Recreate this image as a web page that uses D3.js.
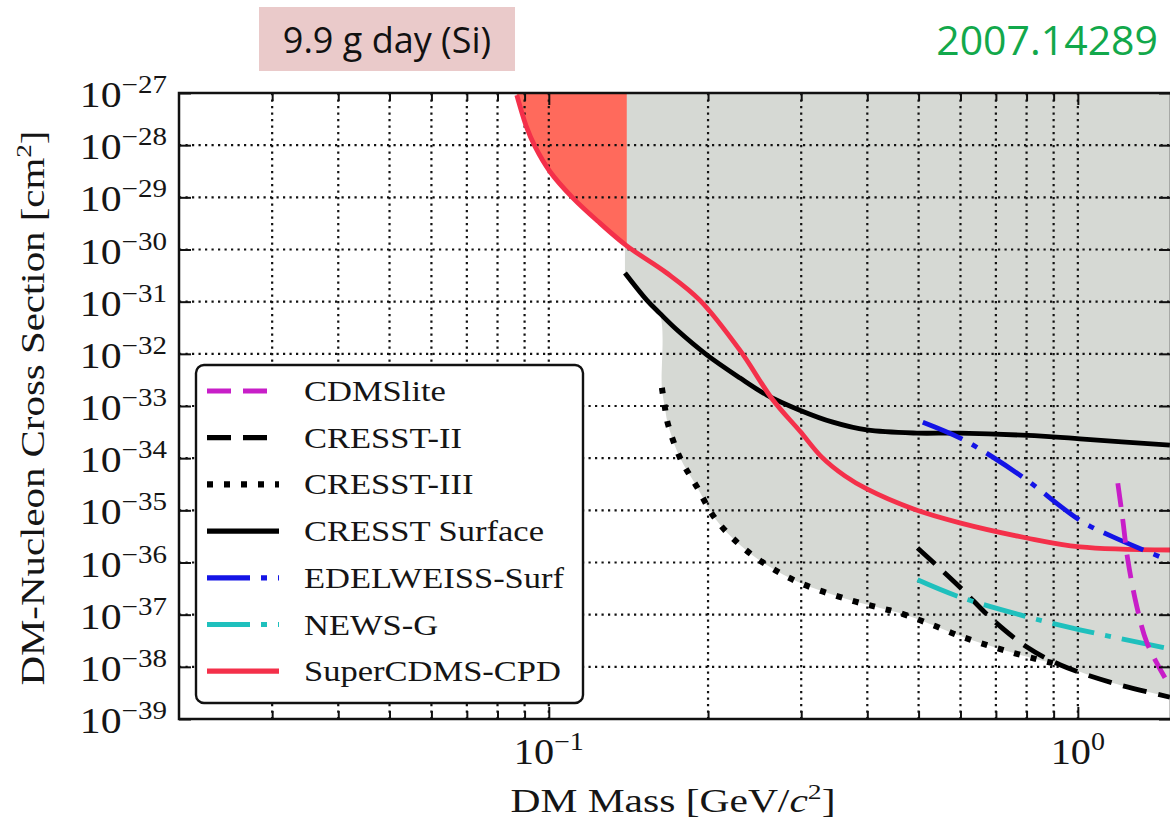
<!DOCTYPE html>
<html lang="en">
<head>
<meta charset="UTF-8">
<title>DM-Nucleon limits</title>
<script src="https://d3js.org/d3.v7.min.js"></script>
<style>
body { margin: 0; background: #fff; }
svg text { font-family: "Liberation Serif", "Times New Roman", serif; fill: #151515; }
.hdr { font-family: "Open Sans", "Noto Sans", sans-serif; }
</style>
</head>
<body>
<svg id="chart" width="1170" height="822"></svg>
<script>
// values: [DM mass in GeV, log10 of cross section in cm^2]
var cdmslite = [[1.19, -34.48], [1.216, -35.18], [1.243, -35.95], [1.293, -36.85], [1.351, -37.54], [1.461, -38.21]];
var cresst2 = [[0.4977, -35.72], [0.598, -36.47], [0.6907, -37.10], [0.801, -37.62], [0.925, -37.96], [1.165, -38.31], [1.493, -38.58]];
var cresst3 = [[0.1636, -32.65], [0.1657, -33.02], [0.1678, -33.33], [0.1768, -33.98], [0.1905, -34.55], [0.206, -35.15],
               [0.2296, -35.66], [0.2583, -36.05], [0.2982, -36.39], [0.3707, -36.72], [0.4228, -36.87], [0.4608, -36.97],
               [0.5319, -37.20], [0.6062, -37.43], [0.7538, -37.73], [0.8968, -37.93]];
var cresstSurf = [[0.1393, -30.45], [0.1532, -30.97], [0.162, -31.22], [0.1746, -31.54], [0.1989, -32.02], [0.2296, -32.46],
                  [0.2583, -32.79], [0.2982, -33.08], [0.3443, -33.31], [0.3991, -33.46], [0.4963, -33.52], [0.598, -33.52],
                  [0.8968, -33.59], [1.009, -33.63], [1.493, -33.75]];
var edelweiss = [[0.5093, -33.31], [0.598, -33.61], [0.6907, -33.98], [0.801, -34.42], [1.009, -35.19], [1.165, -35.51], [1.43, -35.89]];
var newsg = [[0.4977, -36.33], [0.598, -36.66], [0.801, -37.04], [1.009, -37.29], [1.47, -37.64]];
var supercdms = [[0.087, -27.04], [0.0909, -27.67], [0.0941, -28.02], [0.1004, -28.5], [0.111, -29.01], [0.1248, -29.49],
                 [0.1404, -29.93], [0.1671, -30.45], [0.1929, -30.97], [0.2297, -31.93], [0.2651, -32.88], [0.2982, -33.48],
                 [0.3281, -33.98], [0.3627, -34.34], [0.3991, -34.59], [0.4876, -34.97], [0.5983, -35.24],
                 [0.801, -35.53], [1.009, -35.70], [1.493, -35.76]];

var cpdCut = 0.1404;          // right edge of the red region
var xMinor = [0.03, 0.04, 0.05, 0.06, 0.07, 0.08, 0.09, 0.2, 0.3, 0.4, 0.5, 0.6, 0.7, 0.8, 0.9];
var xMajor = [0.1, 1];
var xMajorExp = ["\u22121", "0"];
var yExp = [-27, -28, -29, -30, -31, -32, -33, -34, -35, -36, -37, -38, -39];

var series = [
  {name: "CDMSlite", data: cdmslite, color: "#c81ec8", dash: "24,12", w: 4.8},
  {name: "CRESST-II", data: cresst2, color: "#000", dash: "24,12", w: 4.8},
  {name: "CRESST-III", data: cresst3, color: "#000", dash: "6,11", w: 6},
  {name: "CRESST Surface", data: cresstSurf, color: "#000", dash: null, w: 4.8},
  {name: "EDELWEISS-Surf", data: edelweiss, color: "#1414e6", dash: "43,11,6,11", w: 4.8},
  {name: "NEWS-G", data: newsg, color: "#1fc0bd", dash: "43,11,6,11", w: 4.8},
  {name: "SuperCDMS-CPD", data: supercdms, color: "#f4304a", dash: null, w: 4.8}
];

var svg = d3.select("#chart");
var pLeft = 179, pRight = 1171, pTop = 93, pBottom = 719;

var x = d3.scaleLog().domain([0.02, 1.5]).range([pLeft, pRight]);
var y = d3.scaleLog().domain([1e-39, 1e-27]).range([pBottom, pTop]);

function px(d) { return x(d[0]); }
function py(d) { return y(Math.pow(10, d[1])); }
var smooth = d3.curveCatmullRom.alpha(0.5);
var line = d3.line().x(px).y(py).curve(smooth);
var area = d3.area().x(px).y0(pTop - 5).y1(py).curve(smooth);

svg.append("defs").append("clipPath").attr("id", "plot")
  .append("rect").attr("x", pLeft).attr("y", pTop).attr("width", pRight - pLeft).attr("height", pBottom - pTop);

var plot = svg.append("g").attr("clip-path", "url(#plot)");

// gray region: above the lowest of the other limits
var grayPts = cresstSurf.filter(function (d) { return d[0] <= 0.162; })
  .concat(cresst3)
  .concat(cresst2.filter(function (d) { return d[0] > 0.9; }));
plot.append("path").attr("d", area(grayPts)).attr("fill", "#d6d9d4");

// red region: new CPD reach below 0.14 GeV
var redPts = supercdms.filter(function (d) { return d[0] <= cpdCut; });
plot.append("path").attr("d", area(redPts)).attr("fill", "#ff6a5c");

// grid
var grid = plot.append("g").attr("stroke", "#111").attr("stroke-width", 2.2).attr("stroke-dasharray", "2.2,4.3");
grid.selectAll(".gx").data(xMinor.concat(xMajor)).join("line")
  .attr("x1", function (d) { return x(d); }).attr("x2", function (d) { return x(d); })
  .attr("y1", pTop).attr("y2", pBottom);
grid.selectAll(".gy").data(yExp.slice(1, -1)).join("line")
  .attr("x1", pLeft).attr("x2", pRight)
  .attr("y1", function (d) { return y(Math.pow(10, d)); }).attr("y2", function (d) { return y(Math.pow(10, d)); });

// limit curves
var drawOrder = [2, 1, 3, 6, 4, 5, 0];
drawOrder.forEach(function (i) {
  var s = series[i];
  plot.append("path").attr("d", line(s.data))
    .attr("fill", "none").attr("stroke", s.color).attr("stroke-width", s.w)
    .attr("stroke-dasharray", s.dash);
});

// axes with inward ticks
function tickAxis(axis, vals, size, tr) {
  svg.append("g").attr("transform", tr)
    .call(axis.tickValues(vals).tickSize(size).tickFormat(""))
    .call(function (g) { g.select(".domain").remove(); g.selectAll("line").attr("stroke", "#111").attr("stroke-width", 2); });
}
var yTickVals = yExp.map(function (e) { return Math.pow(10, e); });
tickAxis(d3.axisBottom(x), xMinor, -8, "translate(0," + pBottom + ")");
tickAxis(d3.axisBottom(x), xMajor, -12, "translate(0," + pBottom + ")");
tickAxis(d3.axisTop(x), xMinor, -8, "translate(0," + pTop + ")");
tickAxis(d3.axisTop(x), xMajor, -12, "translate(0," + pTop + ")");
tickAxis(d3.axisLeft(y), yTickVals, -12, "translate(" + pLeft + ",0)");
tickAxis(d3.axisRight(y), yTickVals, -12, "translate(" + pRight + ",0)");

svg.append("rect").attr("x", pLeft).attr("y", pTop).attr("width", pRight - pLeft).attr("height", pBottom - pTop)
  .attr("fill", "none").attr("stroke", "#111").attr("stroke-width", 2.5);

// Computer Modern runs wider than Times, stretch labels a bit
function widen(k) {
  return function () {
    var w = this.getComputedTextLength();
    d3.select(this).attr("textLength", w * k).attr("lengthAdjust", "spacingAndGlyphs");
  };
}

// tick labels
var yl = svg.append("g").selectAll("text").data(yExp).join("text")
  .attr("x", 167).attr("y", function (d) { return y(Math.pow(10, d)) + 14; })
  .attr("text-anchor", "end").attr("font-size", 36);
yl.append("tspan").text("10");
yl.append("tspan").attr("font-size", 25).attr("dy", -14).text(function (d) { return "\u2212" + (-d); });
yl.each(widen(1.16));

var xl = svg.append("g").selectAll("text").data(xMajor).join("text")
  .attr("x", function (d) { return x(d); }).attr("y", 764)
  .attr("text-anchor", "middle").attr("font-size", 36);
xl.append("tspan").text("10");
xl.append("tspan").attr("font-size", 25).attr("dy", -14).text(function (d, i) { return xMajorExp[i]; });
xl.each(widen(1.12));

// axis titles
var xt = svg.append("text").attr("x", 673).attr("y", 812).attr("text-anchor", "middle").attr("font-size", 33)
  .attr("textLength", 325).attr("lengthAdjust", "spacingAndGlyphs");
xt.append("tspan").text("DM Mass [GeV/");
xt.append("tspan").attr("font-style", "italic").text("c");
xt.append("tspan").attr("font-size", 22).attr("dy", -13).text("2");
xt.append("tspan").attr("dy", 13).text("]");

var yt = svg.append("text").attr("transform", "translate(44,408) rotate(-90)").attr("text-anchor", "middle")
  .attr("font-size", 33).attr("textLength", 555).attr("lengthAdjust", "spacingAndGlyphs");
yt.append("tspan").text("DM-Nucleon Cross Section [cm");
yt.append("tspan").attr("font-size", 22).attr("dy", -13).text("2");
yt.append("tspan").attr("dy", 13).text("]");

// legend
var lg = svg.append("g");
lg.append("rect").attr("x", 196).attr("y", 365).attr("width", 387).attr("height", 338).attr("rx", 8)
  .attr("fill", "#fff").attr("stroke", "#111").attr("stroke-width", 2.4);
var rows = lg.selectAll("g.row").data(series).join("g")
  .attr("transform", function (d, i) { return "translate(0," + (391 + i * 46.7) + ")"; });
rows.append("line").attr("x1", 207).attr("x2", 279)
  .attr("stroke", function (d) { return d.color; }).attr("stroke-width", function (d) { return d.w + 0.4; })
  .attr("stroke-dasharray", function (d) { return d.dash; });
rows.append("text").attr("x", 304).attr("y", 10).attr("font-size", 29).text(function (d) { return d.name; })
  .each(widen(1.19));

// header notes
svg.append("rect").attr("x", 259).attr("y", 7).attr("width", 256).attr("height", 64).attr("fill", "#eacaca");
svg.append("text").attr("class", "hdr").attr("x", 387).attr("y", 53).attr("text-anchor", "middle")
  .attr("font-size", 36).style("fill", "#111").text("9.9 g day (Si)");
svg.append("text").attr("class", "hdr").attr("x", 1158).attr("y", 55).attr("text-anchor", "end")
  .attr("font-size", 41).style("fill", "#12a84b").text("2007.14289");
</script>
</body>
</html>
